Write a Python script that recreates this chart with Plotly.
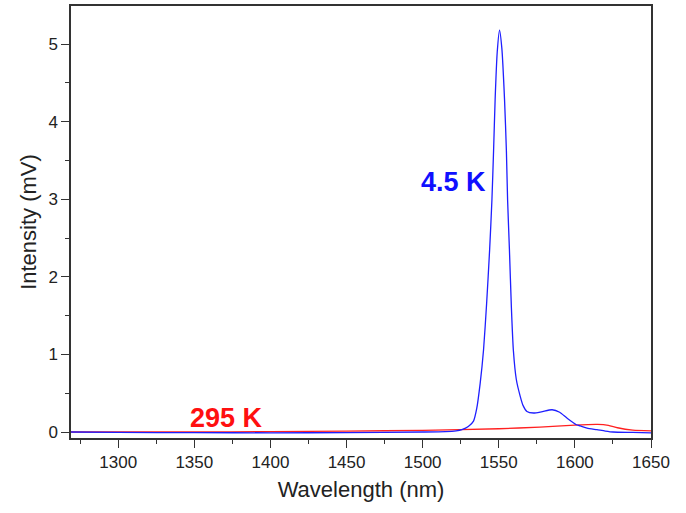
import plotly.graph_objects as go

# 4.5 K spectrum (wavelength nm, intensity mV)
wl_45K = [1269, 1300, 1350, 1400, 1450, 1500, 1515, 1522, 1525.8, 1530, 1533.4, 1535.5,
          1537.8, 1540, 1542, 1544, 1545.5, 1546.6, 1547.6, 1549, 1550.5, 1552, 1553.8,
          1555, 1555.8, 1557, 1558.3, 1559.6, 1561.5, 1564.1, 1566, 1568.5, 1572.9, 1578, 1585,
          1590, 1594.8, 1601, 1603.5, 1608, 1614.5, 1620, 1625, 1638, 1650]
int_45K = [0.0, -0.005, -0.008, -0.01, -0.008, 0.0, 0.005, 0.015, 0.03, 0.07, 0.14, 0.3,
           0.63, 1.06, 1.65, 2.35, 2.99, 3.63, 4.28, 4.9, 5.18, 4.95, 4.28,
           3.63, 2.99, 2.35, 1.6, 1.05, 0.68, 0.46, 0.34, 0.265, 0.245, 0.26, 0.287,
           0.255, 0.18, 0.094, 0.08, 0.05, 0.03, 0.012, 0.0, -0.005, -0.01]

# 295 K spectrum
wl_295K = [1269, 1350, 1400, 1450, 1500, 1550, 1577, 1600, 1615, 1622, 1628, 1638, 1650]
int_295K = [0.0, 0.0, 0.005, 0.012, 0.022, 0.042, 0.064, 0.09, 0.098, 0.085, 0.055, 0.025, 0.015]

x_ticks = [1300, 1350, 1400, 1450, 1500, 1550, 1600, 1650]
y_ticks = [0, 1, 2, 3, 4, 5]

FONT = "Liberation Sans, Arial, sans-serif"

fig = go.Figure()
fig.add_trace(go.Scatter(x=wl_295K, y=int_295K, mode="lines",
                         line=dict(color="#ff2020", width=1.3, shape="spline", smoothing=0.6)))
fig.add_trace(go.Scatter(x=wl_45K, y=int_45K, mode="lines",
                         line=dict(color="#1f1fff", width=1.3, shape="spline", smoothing=0.6)))

fig.add_annotation(x=1543, y=3.22, text="<b>4.5 K</b>", showarrow=False,
                   xanchor="right", font=dict(family=FONT, size=27, color="#1010ff"))
fig.add_annotation(x=1371.4, y=0.185, text="<b>295 K</b>", showarrow=False,
                   xanchor="center", font=dict(family=FONT, size=27, color="#ff1010"))

axis_common = dict(showgrid=False, zeroline=False, showline=True, linecolor="#333333",
                   linewidth=1.5, mirror=True, ticks="outside", ticklen=8, tickwidth=1.3,
                   tickcolor="#333333",
                   tickfont=dict(family=FONT, size=17, color="#222222"))

fig.update_xaxes(range=[1269, 1650], tickvals=x_ticks,
                 minor=dict(dtick=25, tick0=1275, ticks="outside", ticklen=4, tickwidth=1.3,
                            tickcolor="#333333"),
                 title=dict(text="Wavelength (nm)", font=dict(family=FONT, size=22, color="#222222"),
                            standoff=10),
                 **axis_common)
fig.update_yaxes(range=[-0.077, 5.49], tickvals=y_ticks,
                 minor=dict(dtick=0.5, tick0=0.5, ticks="outside", ticklen=4, tickwidth=1.3,
                            tickcolor="#333333"),
                 title=dict(text="Intensity (mV)", font=dict(family=FONT, size=22, color="#222222"),
                            standoff=6),
                 **axis_common)

fig.update_layout(width=686, height=513, margin=dict(l=71, r=35, t=6, b=75, autoexpand=False),
                  plot_bgcolor="white", paper_bgcolor="white", showlegend=False)

fig.write_html("out.html", config={"displayModeBar": False},
               post_script="document.body.style.margin='0';")
